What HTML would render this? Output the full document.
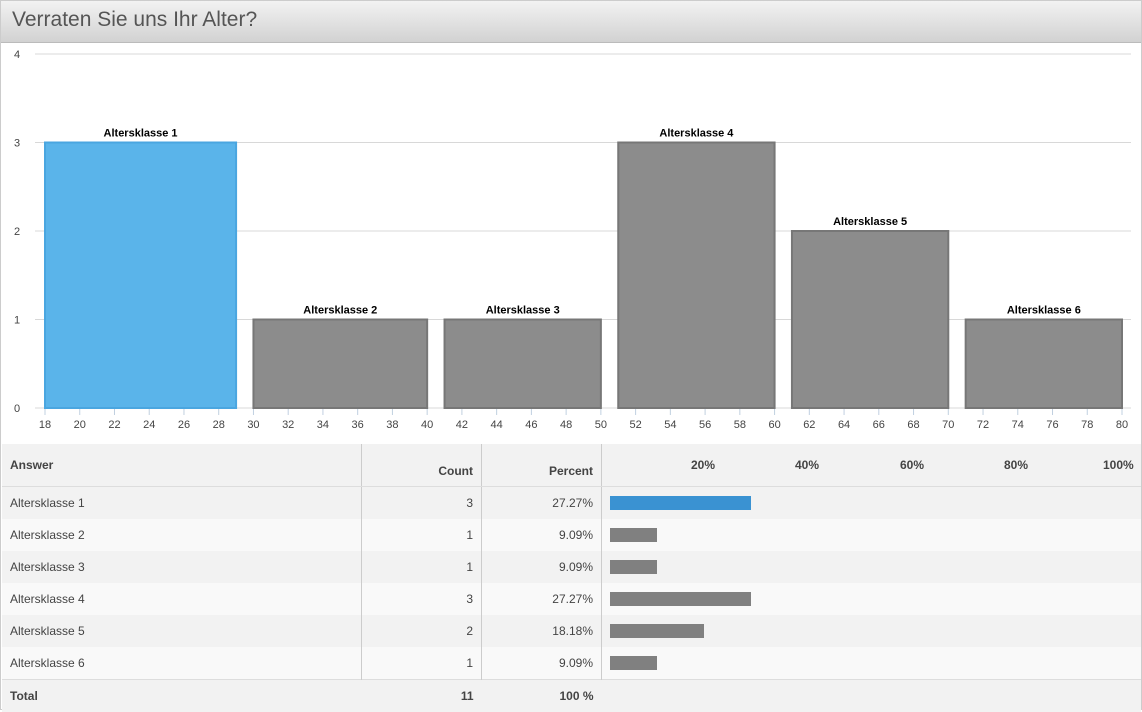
<!DOCTYPE html>
<html><head><meta charset="utf-8"><style>
body{margin:0;width:1142px;height:710px;overflow:hidden;background:#fff;font-family:"Liberation Sans",sans-serif;}
#wrap{position:absolute;left:0;top:0;width:1140px;height:708px;border:1px solid #ccc;}
#title{position:absolute;left:0;top:0;width:1140px;height:41px;background:linear-gradient(#f2f2f2,#d2d2d2);border-bottom:1px solid #bbb;}
#title span{position:absolute;left:11px;top:7px;font-size:21px;color:#555;}
svg{position:absolute;left:0;top:0;}
table{position:absolute;left:1px;top:443px;width:1139px;border-collapse:collapse;font-size:12px;color:#444;}
td{height:32px;padding:0 8px;border-right:1px solid #ccc;}
tr.h td{height:34px;background:#f2f2f2;font-weight:bold;border-bottom:1px solid #ddd;}
tr.r:nth-child(even) td{background:#f9f9f9}
tr.r:nth-child(odd) td{background:#f2f2f2}
tr.t td{background:#f2f2f2;font-weight:bold;border-top:1px solid #ddd;border-right:none;height:32px;}
.num{text-align:right}
.bar{height:14px;display:block}
</style></head><body>
<div id="wrap">
<div id="title"><span>Verraten Sie uns Ihr Alter?</span></div>
<svg id="chart" width="1142" height="440"></svg>
<table>
<tr class="h"><td style="width:343px">Answer</td><td class="num" style="width:103px;vertical-align:bottom;padding-bottom:8px">Count</td><td class="num" style="width:103px;vertical-align:bottom;padding-bottom:8px">Percent</td><td style="border-right:none;padding:0"><div style="position:relative;height:34px"><span style="position:absolute;left:89px;top:10px">20%</span><span style="position:absolute;left:193px;top:10px">40%</span><span style="position:absolute;left:298px;top:10px">60%</span><span style="position:absolute;left:402px;top:10px">80%</span><span style="position:absolute;left:501px;top:10px">100%</span></div></td></tr>
<tbody id="rows"></tbody>
</table>
</div>
<script>
const labels=["Altersklasse 1","Altersklasse 2","Altersklasse 3","Altersklasse 4","Altersklasse 5","Altersklasse 6"];
const binStart=[18,30,41,51,61,71];
const binEnd=[29,40,50,60,70,80];
const counts=[3,1,1,3,2,1];
const percents=["27.27%","9.09%","9.09%","27.27%","18.18%","9.09%"];
const yTicks=[0,1,2,3,4];
const xTicks=[18,20,22,24,26,28,30,32,34,36,38,40,42,44,46,48,50,52,54,56,58,60,62,64,66,68,70,72,74,76,78,80];
const NS="http://www.w3.org/2000/svg";
const svg=document.getElementById('chart');
const x=v=>44+(v-18)*(1077/62);
const y=v=>407-v*88.5;
function mk(t,a){const e=document.createElementNS(NS,t);for(const k in a)e.setAttribute(k,a[k]);svg.appendChild(e);return e;}
yTicks.forEach(v=>{
 const g=mk('line',{x1:34,x2:1130,y1:y(v),y2:y(v),stroke:'#d8d8d8','stroke-width':1});
 
 
 const t=mk('text',{x:16,y:y(v)+4,'font-size':11,fill:'#444','text-anchor':'middle'});t.textContent=v;
 
 
});
xTicks.forEach(v=>{
 const l=mk('line',{x1:x(v),x2:x(v),y1:407,y2:414,stroke:'#c0d0e0'});
 
 
 const t=mk('text',{x:x(v),y:427,'font-size':11,fill:'#444','text-anchor':'middle'});t.textContent=v;
 
 
});
counts.forEach((c,i)=>{
 const r=mk('rect',{x:x(binStart[i]),y:y(c),width:x(binEnd[i])-x(binStart[i]),height:y(0)-y(c),fill:i==0?'#5ab4ea':'#8c8c8c',stroke:i==0?'#4aa6e0':'#777','stroke-width':2});
 
 
 const t=mk('text',{x:(x(binStart[i])+x(binEnd[i]))/2,y:y(c)-6,'font-size':11,'font-weight':'bold',fill:'#000','text-anchor':'middle'});t.textContent=labels[i];
 
 
});
const tb=document.getElementById('rows');
const total=counts.reduce((a,b)=>a+b,0);
counts.forEach((c,i)=>{
 const tr=document.createElement('tr');tr.className='r';
 
 
 tr.innerHTML=`<td>${labels[i]}</td><td class="num">${c}</td><td class="num">${percents[i]}</td><td style="border-right:none"><span class="bar" style="width:${c/total*517}px;background:${i==0?'#3a92d2':'#808080'}"></span></td>`;
 tb.appendChild(tr);
});
const tr=document.createElement('tr');tr.className='t';


tr.innerHTML=`<td>Total</td><td class="num">${total}</td><td class="num">100 %</td><td></td>`;
tb.appendChild(tr);
</script>
</body></html>
